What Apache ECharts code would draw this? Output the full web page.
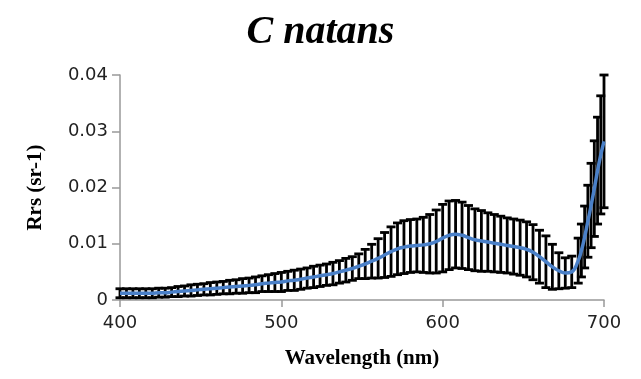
<!DOCTYPE html>
<html>
<head>
<meta charset="utf-8">
<script src="https://cdn.jsdelivr.net/npm/echarts@6/dist/echarts.min.js"></script>
<style>
  html, body { margin: 0; padding: 0; background: #fff; }
  #chart { width: 641px; height: 379px; }
</style>
</head>
<body>
<div id="chart"></div>
<script>
// wavelength samples (nm)
const wavelengths = [
  400, 404, 408, 412, 416, 420, 424, 428, 432, 436, 440, 444, 448, 452, 456, 460,
  464, 468, 472, 476, 480, 484, 488, 492, 496, 500, 504, 508, 512, 516, 520, 524,
  528, 532, 536, 540, 544, 548, 552, 556, 560, 564, 568, 572, 576, 580, 584, 588,
  592, 596, 600, 604, 608, 612, 616, 620, 624, 628, 632, 636, 640, 644, 648, 652,
  656, 660, 664, 668, 672, 676, 680, 684, 686, 688, 690, 692, 694, 696, 698, 700
]
// mean Rrs (sr-1)
const meanRrs = [
  0.0012, 0.0012, 0.0012, 0.0012, 0.0012, 0.0012, 0.0013, 0.0013, 0.0014, 0.0015, 0.0016, 0.0017, 0.0018, 0.0019, 0.0020, 0.0021,
  0.0022, 0.0023, 0.0024, 0.0025, 0.0026, 0.0027, 0.0029, 0.0030, 0.0031, 0.0032, 0.0034, 0.0035, 0.0037, 0.0039, 0.0041, 0.0043,
  0.0045, 0.0047, 0.0050, 0.0053, 0.0056, 0.0060, 0.0064, 0.0069, 0.0074, 0.0080, 0.0086, 0.0091, 0.0094, 0.0096, 0.0097, 0.0098,
  0.0100, 0.0104, 0.0110, 0.0115, 0.0117, 0.0115, 0.0111, 0.0107, 0.0105, 0.0103, 0.0101, 0.0099, 0.0097, 0.0095, 0.0093, 0.0090,
  0.0085, 0.0077, 0.0068, 0.0059, 0.0052, 0.0048, 0.0050, 0.0070, 0.0088, 0.0112, 0.0140, 0.0168, 0.0198, 0.0230, 0.0258, 0.0282
]
// standard deviation (half error bar)
const stdRrs = [
  0.0008, 0.0008, 0.0008, 0.0008, 0.0008, 0.0008, 0.0008, 0.0008, 0.0008, 0.0009, 0.0009, 0.0010, 0.0010, 0.0010, 0.0011, 0.0011,
  0.0011, 0.0012, 0.0012, 0.0013, 0.0013, 0.0014, 0.0014, 0.0015, 0.0016, 0.0017, 0.0017, 0.0018, 0.0018, 0.0018, 0.0019, 0.0019,
  0.0019, 0.0020, 0.0020, 0.0021, 0.0021, 0.0022, 0.0026, 0.0030, 0.0035, 0.0040, 0.0044, 0.0046, 0.0047, 0.0047, 0.0047, 0.0049,
  0.0052, 0.0056, 0.0060, 0.0061, 0.0060, 0.0059, 0.0057, 0.0055, 0.0054, 0.0052, 0.0051, 0.0050, 0.0049, 0.0049, 0.0049, 0.0049,
  0.0049, 0.0047, 0.0046, 0.0040, 0.0032, 0.0027, 0.0028, 0.0040, 0.0047, 0.0055, 0.0064, 0.0075, 0.0085, 0.0095, 0.0105, 0.0118
]
const xTicks = [400, 500, 600, 700]
const yTicks = [0, 0.01, 0.02, 0.03, 0.04]

const chart = echarts.init(document.getElementById("chart"))

const lineData = wavelengths.map((w, i) => [w, meanRrs[i]])
const errData = wavelengths.map((w, i) => [w, meanRrs[i] - stdRrs[i], meanRrs[i] + stdRrs[i]])

const renderErr = (params, api) => {
  const lo = api.coord([api.value(0), api.value(1)])
  const hi = api.coord([api.value(0), api.value(2)])
  const cap = 4.5
  const style = { stroke: "#000", lineWidth: 2.8 }
  return {
    type: "group",
    children: [
      { type: "line", shape: { x1: lo[0], y1: lo[1], x2: hi[0], y2: hi[1] }, style },
      { type: "line", shape: { x1: hi[0] - cap, y1: hi[1], x2: hi[0] + cap, y2: hi[1] }, style },
      { type: "line", shape: { x1: lo[0] - cap, y1: lo[1], x2: lo[0] + cap, y2: lo[1] }, style },
    ],
  }
}

const option = {
  animation: false,
  title: {
    text: "C natans",
    left: "center",
    top: 8,
    textStyle: {
      fontFamily: "Liberation Serif",
      fontStyle: "italic",
      fontWeight: "bold",
      fontSize: 40,
      color: "#000",
    },
  },
  grid: { left: 120, right: 37, top: 75, bottom: 79 },
  xAxis: {
    type: "value",
    min: xTicks[0],
    max: xTicks[xTicks.length - 1],
    interval: 100,
    name: "Wavelength (nm)",
    nameLocation: "middle",
    nameGap: 48,
    nameTextStyle: { fontFamily: "Liberation Serif", fontWeight: "bold", fontSize: 21, color: "#000" },
    axisLine: { lineStyle: { color: "#999", width: 1.5 } },
    axisTick: { show: true, length: 7, lineStyle: { color: "#999", width: 1.5 } },
    axisLabel: { fontFamily: "DejaVu Sans", fontSize: 18, color: "#222", margin: 14 },
    splitLine: { show: false },
  },
  yAxis: {
    type: "value",
    min: yTicks[0],
    max: yTicks[yTicks.length - 1],
    interval: 0.01,
    name: "Rrs (sr-1)",
    nameLocation: "middle",
    nameGap: 74,
    nameTextStyle: { fontFamily: "Liberation Serif", fontWeight: "bold", fontSize: 21, color: "#000" },
    axisLine: { show: true, lineStyle: { color: "#999", width: 1.5 } },
    axisTick: { show: true, length: 8, lineStyle: { color: "#999", width: 1.5 } },
    axisLabel: { fontFamily: "DejaVu Sans", fontSize: 18, color: "#222", margin: 12 },
    splitLine: { show: false },
  },
  series: [
    {
      type: "custom",
      renderItem: renderErr,
      encode: { x: 0, y: [1, 2] },
      data: errData,
      z: 2,
    },
    {
      type: "line",
      data: lineData,
      smooth: true,
      showSymbol: false,
      lineStyle: { color: "#4a80c8", width: 3.5 },
      z: 3,
    },
  ],
}
chart.setOption(option)
</script>
</body>
</html>
